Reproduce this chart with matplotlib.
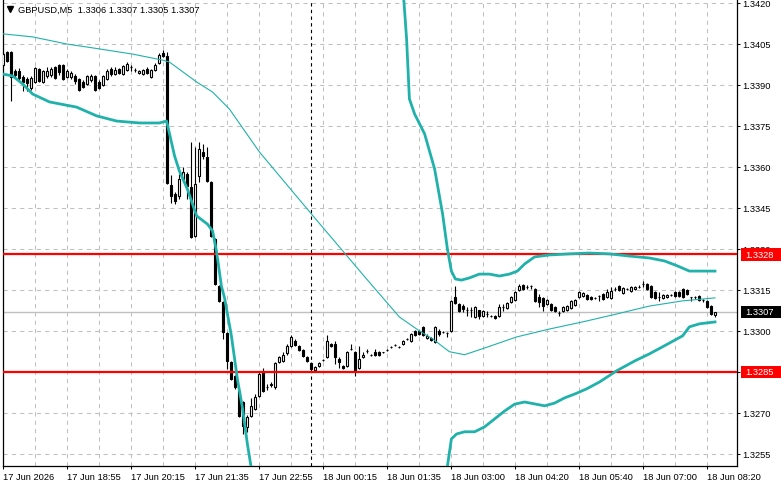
import numpy as np
import matplotlib.pyplot as plt
from matplotlib import transforms
from matplotlib.patches import Rectangle

plt.rcParams['font.family'] = ['Liberation Sans', 'DejaVu Sans']

# GBPUSD M5 candles, 17 Jun 17:35 -> 18 Jun 08:25
opens = [
    1.33973, 1.34021, 1.34021, 1.33951, 1.33951, 1.33929, 1.33922, 1.33889, 1.33911, 1.33958,
    1.33911, 1.33933, 1.33936, 1.33966, 1.33973, 1.33973, 1.33929, 1.33929, 1.33933, 1.33922,
    1.33911, 1.33904, 1.33918, 1.33933, 1.33911, 1.33900, 1.33922, 1.33958, 1.33940, 1.33958,
    1.33940, 1.33955, 1.33966, 1.33955, 1.33944, 1.33940, 1.33958, 1.33929, 1.33955, 1.33980,
    1.34017, 1.34006, 1.33534, 1.33501, 1.33494, 1.33556, 1.33574, 1.33527, 1.33347, 1.33567,
    1.33655, 1.33637, 1.33545, 1.33336, 1.33165, 1.33106, 1.32993, 1.32887, 1.32836, 1.32781,
    1.32740, 1.32649, 1.32689, 1.32715, 1.32762, 1.32850, 1.32795, 1.32803, 1.32795, 1.32887,
    1.32891, 1.32920, 1.32946, 1.32964, 1.32946, 1.32931, 1.32905, 1.32883, 1.32858, 1.32872,
    1.32894, 1.32905, 1.32953, 1.32953, 1.32898, 1.32872, 1.32872, 1.32935, 1.32924, 1.32865,
    1.32905, 1.32927, 1.32913, 1.32924, 1.32924, 1.32924, 1.32931, 1.32942, 1.32949, 1.32942,
    1.32953, 1.32971, 1.32964, 1.33000, 1.33000, 1.33015, 1.32975, 1.32975, 1.32960, 1.33000,
    1.32997, 1.32993, 1.33000, 1.33124, 1.33099, 1.33091, 1.33077, 1.33077, 1.33051, 1.33077,
    1.33055, 1.33062, 1.33055, 1.33055, 1.33055, 1.33088, 1.33084, 1.33106, 1.33113, 1.33150,
    1.33168, 1.33161, 1.33165, 1.33154, 1.33124, 1.33121, 1.33099, 1.33099, 1.33088, 1.33066,
    1.33073, 1.33077, 1.33084, 1.33095, 1.33124, 1.33128, 1.33132, 1.33124, 1.33121, 1.33128,
    1.33135, 1.33124, 1.33121, 1.33154, 1.33165, 1.33139, 1.33154, 1.33146, 1.33154, 1.33161,
    1.33172, 1.33172, 1.33165, 1.33143, 1.33124, 1.33121, 1.33124, 1.33132, 1.33143, 1.33143,
    1.33154, 1.33150, 1.33124, 1.33124, 1.33128, 1.33113, 1.33110, 1.33091, 1.33060,
]
highs = [
    1.34024, 1.34024, 1.34024, 1.33958, 1.33962, 1.33936, 1.33929, 1.33933, 1.33966, 1.33962,
    1.33955, 1.33966, 1.33966, 1.33969, 1.33976, 1.33976, 1.33958, 1.33951, 1.33940, 1.33926,
    1.33918, 1.33936, 1.33940, 1.33936, 1.33918, 1.33936, 1.33958, 1.33966, 1.33966, 1.33962,
    1.33973, 1.33984, 1.33973, 1.33962, 1.33955, 1.33958, 1.33966, 1.33958, 1.33980, 1.34017,
    1.34028, 1.34021, 1.33571, 1.33508, 1.33574, 1.33600, 1.33582, 1.33691, 1.33673, 1.33691,
    1.33684, 1.33673, 1.33549, 1.33340, 1.33168, 1.33110, 1.32997, 1.32891, 1.32839, 1.32784,
    1.32744, 1.32693, 1.32755, 1.32770, 1.32854, 1.32865, 1.32806, 1.32814, 1.32887, 1.32909,
    1.32924, 1.32953, 1.32986, 1.32971, 1.32949, 1.32935, 1.32909, 1.32887, 1.32872, 1.32887,
    1.32898, 1.32986, 1.32956, 1.32964, 1.32905, 1.32876, 1.32927, 1.32953, 1.32927, 1.32946,
    1.32924, 1.32935, 1.32916, 1.32935, 1.32927, 1.32924, 1.32935, 1.32946, 1.32953, 1.32946,
    1.32967, 1.32975, 1.32993, 1.33004, 1.33004, 1.33018, 1.32989, 1.32978, 1.33018, 1.33007,
    1.33000, 1.32997, 1.33113, 1.33165, 1.33102, 1.33099, 1.33088, 1.33088, 1.33091, 1.33077,
    1.33077, 1.33073, 1.33058, 1.33058, 1.33099, 1.33099, 1.33106, 1.33128, 1.33146, 1.33172,
    1.33172, 1.33168, 1.33168, 1.33157, 1.33135, 1.33124, 1.33117, 1.33102, 1.33091, 1.33073,
    1.33091, 1.33095, 1.33113, 1.33117, 1.33146, 1.33143, 1.33135, 1.33128, 1.33124, 1.33132,
    1.33139, 1.33154, 1.33161, 1.33161, 1.33168, 1.33161, 1.33157, 1.33165, 1.33165, 1.33168,
    1.33183, 1.33176, 1.33168, 1.33146, 1.33143, 1.33135, 1.33135, 1.33135, 1.33146, 1.33146,
    1.33157, 1.33154, 1.33124, 1.33128, 1.33132, 1.33117, 1.33113, 1.33095, 1.33070,
]
lows = [
    1.33969, 1.33984, 1.33841, 1.33926, 1.33918, 1.33878, 1.33878, 1.33882, 1.33907, 1.33911,
    1.33907, 1.33926, 1.33929, 1.33922, 1.33936, 1.33918, 1.33926, 1.33922, 1.33904, 1.33878,
    1.33889, 1.33900, 1.33911, 1.33878, 1.33885, 1.33896, 1.33918, 1.33933, 1.33936, 1.33940,
    1.33936, 1.33951, 1.33951, 1.33947, 1.33940, 1.33936, 1.33940, 1.33926, 1.33951, 1.33976,
    1.34002, 1.33538, 1.33468, 1.33465, 1.33483, 1.33545, 1.33483, 1.33340, 1.33344, 1.33545,
    1.33629, 1.33545, 1.33344, 1.33168, 1.33106, 1.32971, 1.32861, 1.32821, 1.32788, 1.32686,
    1.32623, 1.32631, 1.32686, 1.32711, 1.32759, 1.32777, 1.32784, 1.32795, 1.32788, 1.32883,
    1.32887, 1.32913, 1.32942, 1.32946, 1.32927, 1.32905, 1.32887, 1.32858, 1.32854, 1.32869,
    1.32891, 1.32902, 1.32942, 1.32880, 1.32865, 1.32861, 1.32869, 1.32931, 1.32836, 1.32861,
    1.32902, 1.32920, 1.32909, 1.32909, 1.32909, 1.32920, 1.32927, 1.32938, 1.32946, 1.32938,
    1.32949, 1.32967, 1.32960, 1.32982, 1.32986, 1.32982, 1.32971, 1.32964, 1.32956, 1.32982,
    1.32993, 1.32978, 1.32997, 1.33099, 1.33069, 1.33069, 1.33055, 1.33051, 1.33047, 1.33044,
    1.33051, 1.33051, 1.33051, 1.33044, 1.33051, 1.33073, 1.33080, 1.33102, 1.33110, 1.33146,
    1.33150, 1.33154, 1.33154, 1.33106, 1.33088, 1.33073, 1.33095, 1.33073, 1.33069, 1.33055,
    1.33069, 1.33073, 1.33080, 1.33091, 1.33121, 1.33124, 1.33113, 1.33113, 1.33117, 1.33110,
    1.33113, 1.33121, 1.33117, 1.33146, 1.33146, 1.33135, 1.33150, 1.33143, 1.33150, 1.33157,
    1.33161, 1.33150, 1.33121, 1.33117, 1.33110, 1.33117, 1.33121, 1.33128, 1.33124, 1.33124,
    1.33121, 1.33132, 1.33110, 1.33117, 1.33110, 1.33106, 1.33084, 1.33058, 1.33050,
]
closes = [
    1.34013, 1.33988, 1.33929, 1.33936, 1.33926, 1.33911, 1.33907, 1.33926, 1.33962, 1.33915,
    1.33951, 1.33951, 1.33958, 1.33926, 1.33947, 1.33922, 1.33951, 1.33944, 1.33915, 1.33882,
    1.33893, 1.33933, 1.33933, 1.33882, 1.33889, 1.33933, 1.33951, 1.33940, 1.33955, 1.33944,
    1.33969, 1.33976, 1.33966, 1.33955, 1.33951, 1.33955, 1.33944, 1.33955, 1.33973, 1.34010,
    1.34006, 1.33541, 1.33494, 1.33476, 1.33556, 1.33582, 1.33530, 1.33344, 1.33538, 1.33666,
    1.33640, 1.33549, 1.33347, 1.33172, 1.33110, 1.32997, 1.32891, 1.32825, 1.32795, 1.32689,
    1.32653, 1.32686, 1.32726, 1.32759, 1.32843, 1.32781, 1.32795, 1.32806, 1.32883, 1.32905,
    1.32913, 1.32946, 1.32978, 1.32949, 1.32931, 1.32909, 1.32891, 1.32861, 1.32869, 1.32883,
    1.32894, 1.32964, 1.32946, 1.32905, 1.32887, 1.32865, 1.32924, 1.32935, 1.32858, 1.32898,
    1.32913, 1.32927, 1.32913, 1.32913, 1.32913, 1.32924, 1.32931, 1.32942, 1.32949, 1.32942,
    1.32964, 1.32971, 1.32989, 1.32986, 1.32989, 1.32986, 1.32982, 1.32967, 1.33015, 1.32989,
    1.32997, 1.32993, 1.33110, 1.33102, 1.33073, 1.33080, 1.33077, 1.33077, 1.33088, 1.33055,
    1.33073, 1.33062, 1.33055, 1.33047, 1.33088, 1.33088, 1.33102, 1.33124, 1.33143, 1.33165,
    1.33154, 1.33161, 1.33165, 1.33110, 1.33106, 1.33091, 1.33113, 1.33077, 1.33073, 1.33066,
    1.33088, 1.33091, 1.33110, 1.33113, 1.33143, 1.33139, 1.33117, 1.33117, 1.33121, 1.33128,
    1.33117, 1.33143, 1.33146, 1.33154, 1.33150, 1.33157, 1.33154, 1.33161, 1.33161, 1.33161,
    1.33172, 1.33154, 1.33124, 1.33121, 1.33124, 1.33132, 1.33132, 1.33132, 1.33128, 1.33128,
    1.33124, 1.33135, 1.33124, 1.33124, 1.33113, 1.33113, 1.33088, 1.33062, 1.33070,
]

# bollinger bands (bar index, price)
mid_bar = [0, 7.4, 15.9, 24.1, 32.4, 39.9, 41.6, 48.4, 52.4, 56.6, 64.1, 77.1, 90.9, 99.1,
           104.1, 107.4, 111.6, 115.4, 119.9, 128.4, 136.6, 144.9, 153.4, 161.6, 169.9, 178]
mid_price = [1.34087, 1.34076, 1.34050, 1.34032, 1.34013, 1.33991, 1.33984, 1.33911, 1.33874,
             1.33812, 1.33655, 1.33428, 1.33190, 1.33051, 1.33000, 1.32971, 1.32924, 1.32913,
             1.32935, 1.32978, 1.33007, 1.33033, 1.33062, 1.33091, 1.33110, 1.33121]

low1_bar = [0, 2.4, 4.9, 7.4, 11.6, 18.4, 23.4, 28.4, 34.1, 39.1, 40.9, 42.9, 44.1, 46.1,
            48.4, 51.1, 52.4, 53.4, 54.6, 55.4, 57.1, 58.6, 59.9, 61.1, 62.1]
low1_price = [1.33940, 1.33933, 1.33904, 1.33867, 1.33838, 1.33819, 1.33787, 1.33768, 1.33761,
              1.33761, 1.33768, 1.33640, 1.33585, 1.33519, 1.33421, 1.33391, 1.33366, 1.33289,
              1.33164, 1.33120, 1.32982, 1.32824, 1.32715, 1.32586, 1.32495]

up2_bar = [100.1, 100.9, 101.6, 102.9, 105.4, 107.9, 109.9, 111.1, 112.1, 113.1, 114.6, 116.6,
           119.1, 121.6, 124.1, 126.6, 128.6, 130.4, 132.9, 136.6, 141.6, 146.6, 151.6, 156.6,
           161.6, 165.4, 168.6, 171.6, 178]
up2_price = [1.34233, 1.34068, 1.33849, 1.33794, 1.33721, 1.33593, 1.33428, 1.33300, 1.33219,
             1.33190, 1.33186, 1.33194, 1.33208, 1.33208, 1.33201, 1.33208, 1.33219, 1.33245,
             1.33271, 1.33278, 1.33282, 1.33285, 1.33282, 1.33274, 1.33267, 1.33256, 1.33238,
             1.33219, 1.33219]

low2_bar = [111.0, 112.1, 113.4, 115.4, 117.9, 120.4, 122.9, 125.4, 127.9, 130.4, 132.9, 135.4,
            137.9, 140.4, 142.9, 145.9, 149.1, 153.4, 157.9, 161.6, 165.4, 169.9, 171.6, 174.1, 178]
low2_price = [1.32495, 1.32605, 1.32623, 1.32631, 1.32631, 1.32649, 1.32678, 1.32707, 1.32732,
              1.32740, 1.32733, 1.32726, 1.32736, 1.32755, 1.32769, 1.32788, 1.32813, 1.32854,
              1.32890, 1.32916, 1.32946, 1.32982, 1.33015, 1.33026, 1.33033]

price_ticks = [1.3255, 1.3270, 1.3285, 1.3300, 1.3315, 1.3330, 1.3345, 1.3360, 1.3375,
               1.3390, 1.3405, 1.3420]
time_pos = [0, 16, 32, 48, 64, 80, 96, 112, 128, 144, 160, 176]
time_labels = ['17 Jun 2026', '17 Jun 18:55', '17 Jun 20:15', '17 Jun 21:35', '17 Jun 22:55',
               '18 Jun 00:15', '18 Jun 01:35', '18 Jun 03:00', '18 Jun 04:20', '18 Jun 05:40',
               '18 Jun 07:00', '18 Jun 08:20']
day_sep = 77
levels = [1.3328, 1.3285]
last_price = 1.3307
title = 'GBPUSD,M5  1.3306 1.3307 1.3305 1.3307'

teal = '#20b2aa'
gridc = '#c0c0c0'

fig = plt.figure(figsize=(7.81, 4.89), dpi=100)
ax = fig.add_axes([3 / 781, 22 / 489, 734 / 781, 467 / 489])
ax.set_xlim(0, 183.5)
ax.set_ylim(1.325058, 1.342146)

# grid
for v in price_ticks:
    ax.axhline(v, color=gridc, lw=0.75, ls=(0, (4, 4)), zorder=0.5)
for b in range(8, 184, 8):
    ax.axvline(b, color=gridc, lw=0.75, ls=(0, (4, 4)), zorder=0.5)

ax.axhline(last_price, color='#c0c0c0', lw=1.0, zorder=1)
ax.axvline(day_sep, color='black', lw=0.8, ls=(0, (3, 3)), zorder=1)

# candles
o = np.array(opens); h = np.array(highs); l = np.array(lows); c = np.array(closes)
x = np.arange(len(o))
up = c >= o
ax.vlines(x, l, h, color='black', lw=0.8, zorder=3)
ax.bar(x[up], (c - o)[up], bottom=o[up], width=0.6, color='white',
       edgecolor='black', linewidth=0.8, zorder=4)
ax.bar(x[~up], (c - o)[~up], bottom=o[~up], width=0.6, color='black',
       edgecolor='black', linewidth=0.8, zorder=4)

# levels
for lv in levels:
    ax.axhline(lv, color='#ff0000', lw=1.6, zorder=5)

# bands
ax.plot(mid_bar, mid_price, color=teal, lw=0.8, zorder=6)
ax.plot(low1_bar, low1_price, color=teal, lw=2.0, zorder=6)
ax.plot(up2_bar, up2_price, color=teal, lw=2.0, zorder=6)
ax.plot(low2_bar, low2_price, color=teal, lw=2.0, zorder=6)

# axes styling
for s in ['left', 'right', 'bottom']:
    ax.spines[s].set_linewidth(0.9)
ax.spines['top'].set_visible(False)
ax.yaxis.tick_right()
ax.set_yticks(price_ticks)
# the 1.3285 scale label sits under the red level box, which shows the same value
ax.set_yticklabels(['' if abs(v - levels[1]) < 1e-9 else f'{v:.4f}' for v in price_ticks])
ax.set_xticks(time_pos)
ax.set_xticklabels(time_labels, ha='left')
ax.tick_params(axis='both', labelsize=6.7, length=2.5, width=0.75, direction='out')
ax.tick_params(axis='y', pad=1.5)
ax.tick_params(axis='x', pad=2)

# price labels on the right scale
trans = transforms.blended_transform_factory(ax.transAxes, ax.transData)
box_h = 0.00046
for val, col in [(levels[0], '#ff0000'), (last_price, 'black'), (levels[1], '#ff0000')]:
    ax.add_patch(Rectangle((1.0054, val - box_h / 2), 0.06, box_h, transform=trans,
                           facecolor=col, edgecolor='none', clip_on=False, zorder=10))
    ax.text(1.0115, val, f'{val:.4f}', transform=trans, color='white', fontsize=6.7,
            ha='left', va='center', clip_on=False, zorder=11)

# title
ax.plot([0.0089], [0.9786], marker='v', ms=4, color='black', transform=ax.transAxes,
        clip_on=False, zorder=10)
ax.text(0.0204, 0.977, title, transform=ax.transAxes, fontsize=6.7, ha='left',
        va='center', zorder=10)

fig.savefig('out.png', dpi=100)
